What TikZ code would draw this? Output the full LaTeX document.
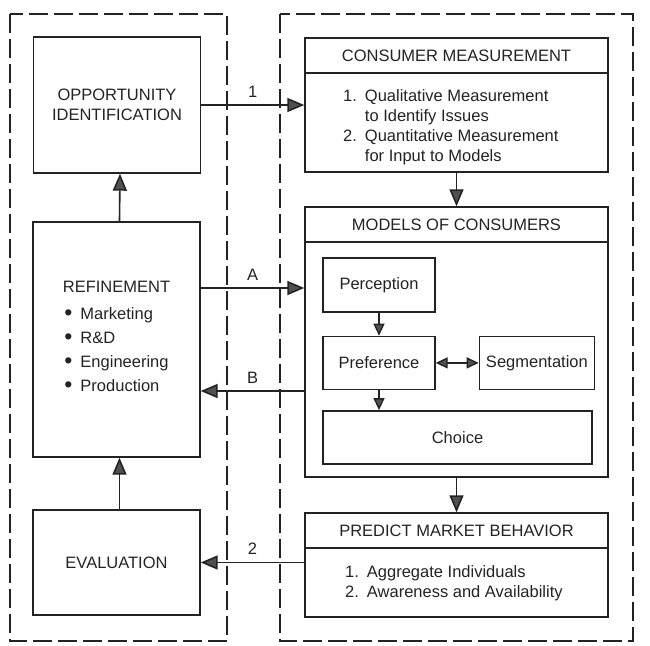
\documentclass[tikz,border=0pt]{standalone}
\usepackage{fontspec}
\setmainfont{Liberation Sans}
\usepackage{tikz}
\usetikzlibrary{arrows.meta, positioning, calc}
\definecolor{inkcolor}{RGB}{35, 35, 35}
\definecolor{tipcolor}{RGB}{80, 80, 80}
\newcommand{\diagfont}{\fontsize{16.5pt}{20pt}\selectfont}
\newcommand{\dotmark}{{\fontsize{23pt}{20pt}\selectfont\raisebox{-1.5pt}{•}}}

\begin{document}
\begin{tikzpicture}[
    x=1pt, y=-1pt,
    font=\diagfont, text=inkcolor,
    stage/.style={draw=inkcolor, line width=1.4pt, minimum width=167pt, inner sep=0pt, align=center},
    panel/.style={draw=inkcolor, line width=1.4pt, minimum width=303pt, inner sep=0pt},
    header/.style={panel, minimum height=35pt, anchor=north},
    submodel/.style={draw=inkcolor, line width=1.4pt, minimum height=53pt, inner sep=0pt},
    zone/.style={draw=inkcolor, line width=1.4pt, dash pattern=on 19pt off 6pt},
    arrow/.style={-{Triangle[length=17pt, width=14pt, fill=tipcolor]}, line width=1.6pt, draw=inkcolor},
    shortarrow/.style={-{Triangle[length=12pt, width=11pt, fill=tipcolor]}, line width=1.4pt, draw=inkcolor},
    twoway/.style={{Triangle[length=12pt, width=11pt, fill=tipcolor]}-{Triangle[length=12pt, width=11pt, fill=tipcolor]}, line width=1.4pt, draw=inkcolor},
    edgelabel/.style={above=7pt, inner sep=0pt}
]
    \useasboundingbox (0,0) rectangle (650,645);

    % Dashed zones
    \draw[zone] (10,14) rectangle (227,641);
    \draw[zone] (280,14) rectangle (633,641);

    % Left column
    \node[stage, minimum height=136pt] (opp) at (117,105) {OPPORTUNITY\\IDENTIFICATION};
    \node[stage, minimum height=235pt] (refine) at (116.5,339.5) {REFINEMENT\\[7pt]
        \renewcommand{\arraystretch}{1.2}%
        \begin{tabular}[t]{@{}l@{\hspace{8pt}}l@{}}
            \dotmark & Marketing\\
            \dotmark & R\&D\\
            \dotmark & Engineering\\
            \dotmark & Production
        \end{tabular}};
    \node[stage, minimum height=105pt] (eval) at (116.5,562.5) {EVALUATION};

    % Consumer measurement
    \node[panel, minimum height=134pt] (cm) at (456.5,105) {};
    \node[header] (cmhead) at (cm.north) {CONSUMER MEASUREMENT};
    \node[anchor=west, inner sep=0pt] (cmlist) at (343,127) {%
        \begin{tabular}{@{}l@{\hspace{8pt}}l@{}}
            1. & Qualitative Measurement\\
               & to Identify Issues\\
            2. & Quantitative Measurement\\
               & for Input to Models
        \end{tabular}};

    % Models of consumers
    \node[panel, minimum height=270pt] (moc) at (456.5,342) {};
    \node[header] (mochead) at (moc.north) {MODELS OF CONSUMERS};
    \node[submodel, minimum width=112pt, minimum height=54pt] (perception) at (379,285) {Perception};
    \node[submodel, minimum width=112pt, below=23pt of perception] (preference) {Preference};
    \node[submodel, minimum width=115pt, right=43pt of preference] (segmentation) {Segmentation};
    \node[submodel, minimum width=269pt, below=20pt of preference.south west, anchor=north west] (choice) {Choice};

    % Predict market behavior
    \node[panel, minimum height=104pt] (pmb) at (456.5,565) {};
    \node[header] (pmbhead) at (pmb.north) {PREDICT MARKET BEHAVIOR};
    \node[anchor=west, inner sep=0pt] (pmblist) at (345,583) {%
        \begin{tabular}{@{}l@{\hspace{8pt}}l@{}}
            1. & Aggregate Individuals\\
            2. & Awareness and Availability
        \end{tabular}};

    % Flows
    \coordinate (lineA) at (0,288);
    \coordinate (lineB) at (0,391);
    \draw[arrow] (opp) -- (cm) node[edgelabel, midway] {1};
    \draw[arrow] (refine.east |- lineA) -- (moc.west |- lineA) node[edgelabel, midway] {A};
    \draw[arrow] (moc.west |- lineB) -- (refine.east |- lineB) node[edgelabel, midway] {B};
    \draw[arrow] (pmb.west |- eval) -- (eval.east) node[edgelabel, midway] {2};
    \draw[arrow] (cm) -- (moc);
    \draw[arrow] (moc) -- (pmb);
    \draw[arrow] ([xshift=3pt]refine.north) -- ([xshift=3pt]opp.south);
    \draw[arrow] ([xshift=3pt]eval.north) -- ([xshift=3pt]refine.south);

    % Inside the models
    \draw[shortarrow] (perception) -- (preference);
    \draw[shortarrow] (preference.south) -- (preference.south |- choice.north);
    \draw[twoway] (preference) -- (segmentation);
\end{tikzpicture}
\end{document}
